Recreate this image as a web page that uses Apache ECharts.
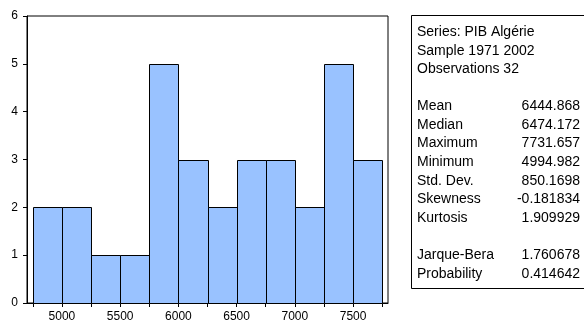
<!DOCTYPE html>
<html><head><meta charset="utf-8">
<script src="https://cdn.jsdelivr.net/npm/echarts@6/dist/echarts.min.js"></script>
<style>html,body{margin:0;padding:0;background:#fff}#c{width:584px;height:327px}</style>
</head><body><div id="c"></div>
<script>
var binStarts = [4750, 5000, 5250, 5500, 5750, 6000, 6250, 6500, 6750, 7000, 7250, 7500];
var binWidth = 250;
var counts = [2, 2, 1, 1, 5, 3, 2, 3, 3, 2, 5, 3];
var xTickValues = [4750, 5000, 5250, 5500, 5750, 6000, 6250, 6500, 6750, 7000, 7250, 7500, 7750];
var xLabelValues = [5000, 5500, 6000, 6500, 7000, 7500];
var headerLines = ['Series: PIB Algérie', 'Sample 1971 2002', 'Observations 32'];
var statNames = ['Mean', 'Median', 'Maximum', 'Minimum', 'Std. Dev.', 'Skewness', 'Kurtosis'];
var statValues = ['6444.868', '6474.172', '7731.657', '4994.982', '850.1698', '-0.181834', '1.909929'];
var testNames = ['Jarque-Bera', 'Probability'];
var testValues = ['1.760678', '0.414642'];

var FONT = 'Liberation Sans, Arial, sans-serif';
var chart = echarts.init(document.getElementById('c'));

var data = binStarts.map(function (s, i) { return [s, s + binWidth, counts[i]]; });

var graphics = [{
  type: 'rect', shape: { x: 411.5, y: 15.5, width: 200, height: 273 },
  style: { fill: '#fff', stroke: '#000', lineWidth: 1 }
}];
var lh = 18.7;
function addText(txt, x, y, align) {
  graphics.push({ type: 'text', x: x, y: y,
    style: { text: txt, fill: '#000', font: '14px ' + FONT, textAlign: align || 'left', textVerticalAlign: 'middle' } });
}
headerLines.forEach(function (t, i) { addText(t, 417, 32 + i * lh); });
statNames.forEach(function (t, i) { addText(t, 417, 106 + i * lh); addText(statValues[i], 580, 106 + i * lh, 'right'); });
testNames.forEach(function (t, i) { addText(t, 417, 255 + i * lh); addText(testValues[i], 580, 255 + i * lh, 'right'); });

chart.setOption({
  animation: false,
  backgroundColor: '#fff',
  grid: { left: 27, top: 16, right: 196, bottom: 24, show: true, borderColor: '#000', borderWidth: 1, backgroundColor: 'transparent' },
  xAxis: {
    type: 'value', min: 4700, max: 7800,
    splitLine: { show: false },
    axisLine: { show: true, lineStyle: { color: '#000' } },
    axisTick: { show: true, length: 4, lineStyle: { color: '#000' }, customValues: xTickValues },
    axisLabel: { color: '#000', fontSize: 12, fontFamily: FONT, margin: 8, customValues: xLabelValues,
      formatter: function (v) { return String(v); } }
  },
  yAxis: {
    type: 'value', min: 0, max: 6, interval: 1,
    splitLine: { show: false },
    axisLine: { show: true, lineStyle: { color: '#000' } },
    axisTick: { show: true, length: 4, lineStyle: { color: '#000' } },
    axisLabel: { color: '#000', fontSize: 12, fontFamily: FONT, margin: 9 }
  },
  series: [{
    type: 'custom',
    data: data,
    encode: { x: [0, 1], y: 2 },
    renderItem: function (params, api) {
      var p0 = api.coord([api.value(0), api.value(2)]);
      var p1 = api.coord([api.value(1), 0]);
      return {
        type: 'rect',
        shape: { x: Math.round(p0[0]) + 0.5, y: Math.round(p0[1]) + 0.5, width: Math.round(p1[0]) - Math.round(p0[0]), height: Math.round(p1[1]) - Math.round(p0[1]) },
        style: { fill: '#99C2FF', stroke: '#000', lineWidth: 1 }
      };
    }
  }],
  graphic: graphics
});
</script></body></html>
